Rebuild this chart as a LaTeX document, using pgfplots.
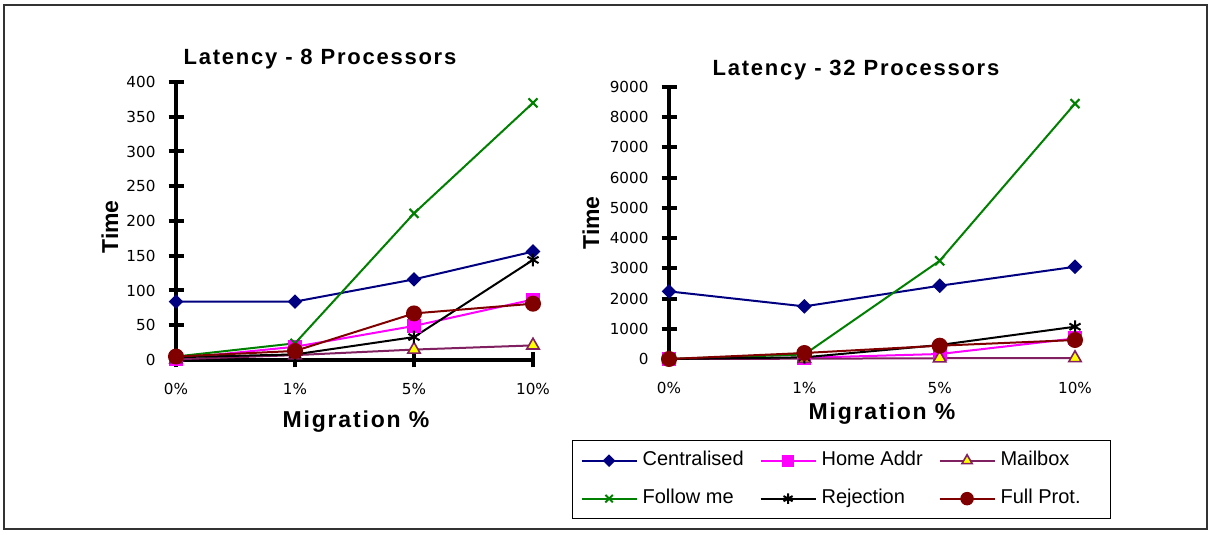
\documentclass[border=0pt]{standalone}
\usepackage{fontspec}
\setmainfont{Liberation Sans}
\newfontfamily\tickfont{DejaVu Sans}
\newfontfamily\headfont[LetterSpace=8]{Liberation Sans}
\usepackage{pgfplots}
\pgfplotsset{compat=1.18}

\definecolor{cNavy}{HTML}{000080}
\definecolor{cMag}{HTML}{FF00FF}
\definecolor{cPlum}{HTML}{802060}
\definecolor{cGreen}{HTML}{008000}
\definecolor{cMaroon}{HTML}{800000}
\definecolor{cYel}{HTML}{FFFF00}

\pgfplotsset{
  latency/.style={
    scale only axis,
    axis y line=left,
    axis x line=bottom,
    axis line style={line width=2pt,-},
    tick align=center,
    major tick length=7.5pt,
    tick style={line width=2pt,black},
    xmin=0, xmax=3,
    xtick={0,1,2,3},
    xticklabels={0\%,1\%,5\%,10\%},
    ymin=0,
    clip=false,
    scaled y ticks=false,
    /pgf/number format/1000 sep={},
    /pgf/number format/assume math mode=true,
    ticklabel style={font=\tickfont\fontsize{7.6}{9}\selectfont},
    xticklabel style={yshift=-4.5pt},
    yticklabel style={xshift=-3pt},
    every axis plot/.append style={line width=1pt},
  },
  sCent/.style={color=cNavy, mark=square*, mark size=2.1pt, mark options={rotate=45, fill=cNavy}},
  sHome/.style={color=cMag, mark=square*, mark size=3pt, mark options={fill=cMag}},
  sMail/.style={color=cPlum, mark=triangle*, mark size=3.6pt, mark options={fill=cYel, draw=cPlum, line width=0.8pt}},
  sFollow/.style={color=cGreen, mark=x, mark size=3.2pt},
  sRej/.style={color=black, mark=asterisk, mark size=3.2pt},
  sFull/.style={color=cMaroon, mark=*, mark size=3.5pt, mark options={fill=cMaroon}},
}

\begin{document}
\begin{tikzpicture}
\path[use as bounding box] (0,0) rectangle (605pt,267.5pt);
\draw[line width=0.6pt, black!80] (2pt,3pt) rectangle (603.5pt,265pt);

% titles and axis labels
\node[font=\headfont\bfseries\fontsize{11}{13}\selectfont] at (160pt,238pt) {Latency - 8 Processors};
\node[font=\headfont\bfseries\fontsize{11}{13}\selectfont] at (428pt,232.5pt) {Latency - 32 Processors};
\node[font=\bfseries\fontsize{11.5}{13}\selectfont, rotate=90] at (55pt,154pt) {Time};
\node[font=\bfseries\fontsize{11.5}{13}\selectfont, rotate=90] at (295.5pt,156pt) {Time};
\node[font=\headfont\bfseries\fontsize{11.5}{13}\selectfont] at (178pt,56.5pt) {Migration \%};
\node[font=\headfont\bfseries\fontsize{11.5}{13}\selectfont] at (441pt,60.5pt) {Migration \%};

% 8 processors
\begin{axis}[latency,
  at={(88pt,87.5pt)}, anchor=south west,
  width=178.5pt, height=139pt,
  ymax=400, ytick={0,50,...,400},
]
\addplot[sCent]   coordinates {(0,84)(1,84)(2,116)(3,156)};
\addplot[sHome]   coordinates {(0,2)(1,19)(2,49)(3,87)};
\addplot[sMail]   coordinates {(0,1)(1,7)(2,15)(3,21)};
\addplot[sFollow] coordinates {(0,5)(1,24)(2,211)(3,370)};
\addplot[sRej]    coordinates {(0,4)(1,8)(2,33)(3,144)};
\addplot[sFull]   coordinates {(0,5)(1,13)(2,67)(3,81)};
\end{axis}

% 32 processors
\begin{axis}[latency,
  at={(334.5pt,88pt)}, anchor=south west,
  width=203pt, height=136pt,
  ymax=9000, ytick={0,1000,...,9000},
  x axis line style={draw=none},
  xtick style={draw=none},
  legend columns=3,
  legend style={at={(-0.239,-0.298)}, anchor=north west,
    draw=black, line width=0.6pt,
    inner xsep=4pt, inner ysep=5.5pt, row sep=10pt,
    nodes={inner sep=0pt, text height=7pt, text depth=2pt},
    font=\fontsize{10}{12}\selectfont},
  legend cell align=left,
  legend image code/.code={
    \draw[mark repeat=2, mark phase=2, line width=1pt, every mark/.append style={scale=0.82}]
      plot coordinates {(0pt,0pt) (13.75pt,0pt) (27.5pt,0pt)};
    \path (30pt,0pt);
  },
]
\addplot[sCent]   coordinates {(0,2237)(1,1741)(2,2424)(3,3052)};
\addlegendentry{\makebox[58.5pt][l]{Centralised}}
\addplot[sHome]   coordinates {(0,0)(1,40)(2,165)(3,680)};
\addlegendentry{\makebox[58.5pt][l]{Home Addr}}
\addplot[sMail]   coordinates {(0,0)(1,10)(2,25)(3,30)};
\addlegendentry{\makebox[51pt][l]{Mailbox}}
\addplot[sFollow] coordinates {(0,0)(1,150)(2,3250)(3,8450)};
\addlegendentry{\makebox[58.5pt][l]{Follow me}}
\addplot[sRej]    coordinates {(0,0)(1,55)(2,463)(3,1068)};
\addlegendentry{\makebox[58.5pt][l]{Rejection}}
\addplot[sFull]   coordinates {(0,0)(1,198)(2,440)(3,628)};
\addlegendentry{\makebox[51pt][l]{Full Prot.}}
\end{axis}
\end{tikzpicture}
\end{document}
